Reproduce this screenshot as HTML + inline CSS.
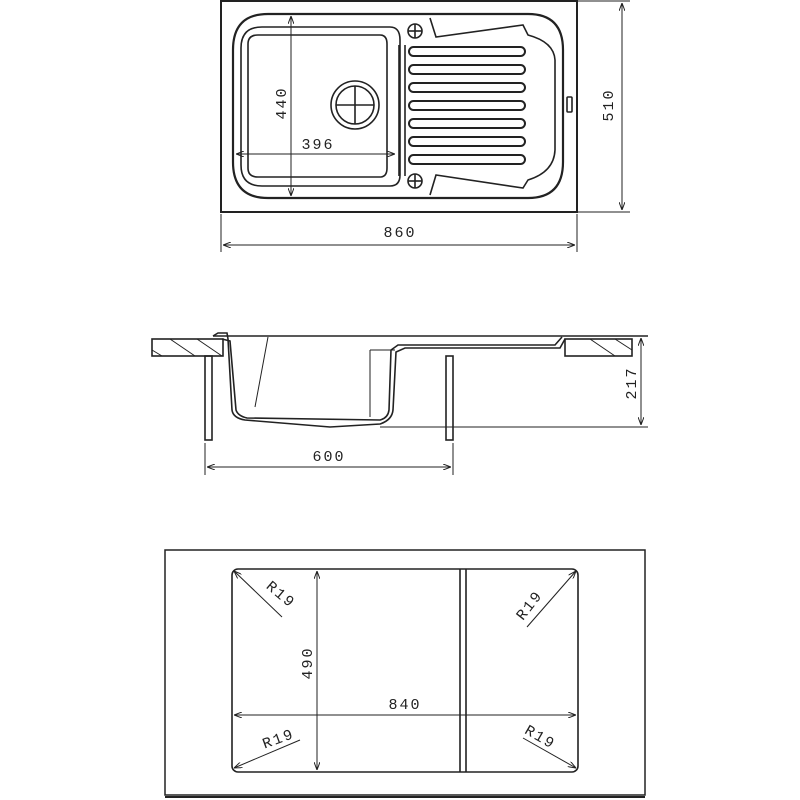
<!DOCTYPE html>
<html><head><meta charset="utf-8"><style>
html,body{margin:0;padding:0;background:#fff;}
svg{display:block;}
text{font-family:"Liberation Mono","DejaVu Sans Mono",monospace;font-size:15px;fill:#222;letter-spacing:2px;}
</style></head><body>
<svg width="800" height="800" viewBox="0 0 800 800" xmlns="http://www.w3.org/2000/svg">
<defs>
<marker id="a" markerWidth="8" markerHeight="6" refX="8" refY="3" orient="auto-start-reverse"><path d="M0,0 L8,3 L0,6" fill="none" stroke="#222" stroke-width="1"/></marker>
</defs>
<g fill="none" stroke="#222" stroke-width="1.6">
<!-- TOP VIEW -->
<rect x="221" y="1" width="356" height="211" stroke-width="2"/>
<path d="M268,14 H528 Q563,14 563,50 V162 Q563,198 528,198 H268 Q233,198 233,162 V50 Q233,14 268,14 Z" stroke-width="2.2"/>
<path d="M262,27 H390 Q400,27 400,40 V175 Q400,186 390,186 H262 Q241,186 241,165 V48 Q241,27 262,27 Z"/>
<path d="M258,35 H380 Q387,35 387,44 V168 Q387,177 380,177 H258 Q248,177 248,168 V44 Q248,35 258,35 Z"/>
<line x1="399" y1="45" x2="399" y2="176"/><line x1="405" y1="45" x2="405" y2="176"/>
<path d="M430,18 L436,37 L523,25 L528,35 Q554,42 555,60 V150 Q554,172 528,180 L523,188 L436,175 L430,195"/>
<circle cx="355" cy="105" r="24"/><circle cx="355" cy="105" r="19"/>
<line x1="336" y1="105" x2="374" y2="105"/><line x1="355" y1="86" x2="355" y2="124"/>
<circle cx="415" cy="31" r="7"/><line x1="408" y1="31" x2="422" y2="31"/><line x1="415" y1="24" x2="415" y2="38"/>
<circle cx="415" cy="181" r="7"/><line x1="408" y1="181" x2="422" y2="181"/><line x1="415" y1="174" x2="415" y2="188"/>
<g stroke-width="2">
<rect x="409" y="47" width="116" height="9" rx="4.5"/>
<rect x="409" y="65" width="116" height="9" rx="4.5"/>
<rect x="409" y="83" width="116" height="9" rx="4.5"/>
<rect x="409" y="101" width="116" height="9" rx="4.5"/>
<rect x="409" y="119" width="116" height="9" rx="4.5"/>
<rect x="409" y="137" width="116" height="9" rx="4.5"/>
<rect x="409" y="155" width="116" height="9" rx="4.5"/>
</g>
<rect x="567" y="97" width="5" height="15" rx="1"/>
<line x1="291" y1="16" x2="291" y2="196" marker-start="url(#a)" marker-end="url(#a)" stroke-width="1"/>
<line x1="236" y1="154" x2="395" y2="154" marker-start="url(#a)" marker-end="url(#a)" stroke-width="1"/>
<line x1="578" y1="1" x2="630" y2="1" stroke-width="1"/><line x1="578" y1="212" x2="630" y2="212" stroke-width="1"/>
<line x1="622" y1="3" x2="622" y2="210" marker-start="url(#a)" marker-end="url(#a)" stroke-width="1"/>
<line x1="221" y1="214" x2="221" y2="252" stroke-width="1"/><line x1="577" y1="214" x2="577" y2="252" stroke-width="1"/>
<line x1="223" y1="245" x2="575" y2="245" marker-start="url(#a)" marker-end="url(#a)" stroke-width="1"/>

<!-- SIDE VIEW -->
<line x1="213" y1="336" x2="648" y2="336"/>
<rect x="152" y="339" width="71" height="17"/>
<rect x="565" y="339" width="67" height="17"/>
<path d="M170,339 L195,356 M197,339 L222,356 M152,350 L162,356 M590,339 L615,356 M615,339 L632,350" stroke-width="1"/>
<rect x="205" y="356" width="7" height="84"/>
<rect x="446" y="356" width="7" height="84"/>
<path d="M213,336 L218,333 L227,333 L228,339 L232,410 Q233,418 245,420 L330,427 L380,424 Q392,420 393,410 L396,352 L405,348 L560,348 L565,339"/>
<path d="M222,339 L230,341 L236,410 Q238,416 247,418 L380,420 Q388,418 389,410 L391,350 L398,345 L555,345 L562,337"/>
<path d="M268,337 L255,407 M370,350 L370,417 M370,350 L395,350" stroke-width="1"/>
<line x1="380" y1="427" x2="648" y2="427" stroke-width="1"/>
<line x1="641" y1="338" x2="641" y2="425" marker-start="url(#a)" marker-end="url(#a)" stroke-width="1"/>
<line x1="205" y1="443" x2="205" y2="475" stroke-width="1"/><line x1="453" y1="443" x2="453" y2="475" stroke-width="1"/>
<line x1="207" y1="467" x2="451" y2="467" marker-start="url(#a)" marker-end="url(#a)" stroke-width="1"/>

<!-- BOTTOM VIEW -->
<rect x="165" y="550" width="480" height="245" stroke-width="1.5"/>
<line x1="165" y1="797" x2="645" y2="797" stroke-width="2"/>
<rect x="232" y="569" width="346" height="203" rx="6" stroke-width="1.6"/>
<line x1="460" y1="569" x2="460" y2="772"/><line x1="466" y1="569" x2="466" y2="772"/>
<line x1="317" y1="571" x2="317" y2="770" marker-start="url(#a)" marker-end="url(#a)" stroke-width="1"/>
<line x1="234" y1="715" x2="576" y2="715" marker-start="url(#a)" marker-end="url(#a)" stroke-width="1"/>
<line x1="234" y1="571" x2="282" y2="617" marker-start="url(#a)" stroke-width="1"/>
<line x1="576" y1="571" x2="527" y2="627" marker-start="url(#a)" stroke-width="1"/>
<line x1="234" y1="768" x2="300" y2="740" marker-start="url(#a)" stroke-width="1"/>
<line x1="576" y1="768" x2="523" y2="738" marker-start="url(#a)" stroke-width="1"/>
</g>
<text x="400" y="237" text-anchor="middle">860</text>
<text transform="translate(286,103) rotate(-90)" text-anchor="middle">440</text>
<text x="318" y="149" text-anchor="middle">396</text>
<text transform="translate(613,105) rotate(-90)" text-anchor="middle">510</text>
<text transform="translate(636,383) rotate(-90)" text-anchor="middle">217</text>
<text x="329" y="461" text-anchor="middle">600</text>
<text transform="translate(312,663) rotate(-90)" text-anchor="middle">490</text>
<text x="405" y="709" text-anchor="middle">840</text>
<text transform="translate(278,598) rotate(40)" text-anchor="middle">R19</text>
<text transform="translate(533,608) rotate(-52)" text-anchor="middle">R19</text>
<text transform="translate(280,743) rotate(-20)" text-anchor="middle">R19</text>
<text transform="translate(538,741) rotate(30)" text-anchor="middle">R19</text>
</svg>
</body></html>
